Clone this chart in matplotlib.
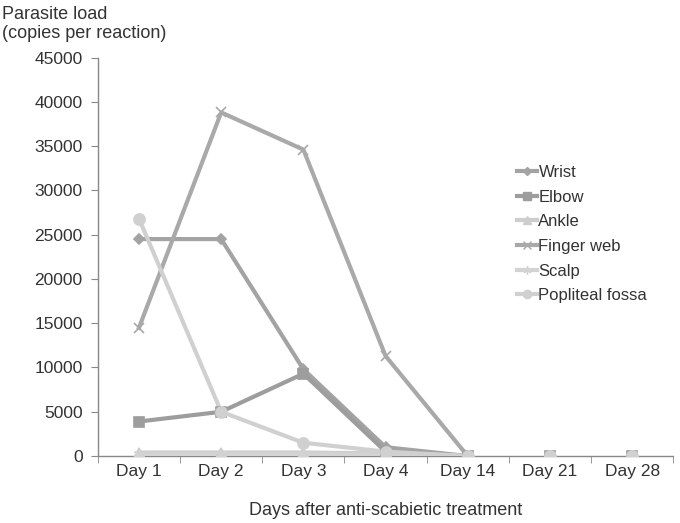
import matplotlib
matplotlib.use("Agg")
import matplotlib.pyplot as plt
import numpy as np

plt.rcParams['font.family'] = ['Liberation Sans', 'DejaVu Sans']

days = ["Day 1", "Day 2", "Day 3", "Day 4", "Day 14", "Day 21", "Day 28"]
wrist = [24500, 24500, 9800, 1000, 0, 0, 0]
elbow = [3900, 5000, 9300, 500, 0, 0, 0]
ankle = [400, 400, 400, 300, 0, 0, 0]
finger_web = [14500, 38800, 34600, 11300, 0, 0, 0]
scalp = [200, 200, 200, 200, 0, 0, 0]
popliteal = [26800, 5000, 1500, 500, 0, 0, 0]

series = [
    ("Wrist", wrist, "#a3a3a3", "D", 5),
    ("Elbow", elbow, "#9d9d9d", "s", 7),
    ("Ankle", ankle, "#cdcdcd", "^", 7),
    ("Finger web", finger_web, "#a9a9a9", "x", 7),
    ("Scalp", scalp, "#d3d3d3", (6, 2, 0), 8),
    ("Popliteal fossa", popliteal, "#d0d0d0", "o", 8),
]

fig = plt.figure(figsize=(6.8, 5.23), dpi=100)
ax = fig.add_axes([0.144, 0.128, 0.846, 0.762])
x = np.arange(len(days))
n_line = 5
for name, vals, col, mk, ms in series:
    ax.plot(x[:n_line], vals[:n_line], color=col, lw=3, zorder=3)
    ax.plot(x, vals, linestyle='none', marker=mk, ms=ms, color=col,
            markeredgecolor=col, mew=1.2, zorder=4)
    ax.plot([], [], color=col, lw=3, marker=mk, ms=ms*0.75, markeredgecolor=col, label=name)

ax.set_xlim(-0.5, len(days) - 0.5)
ax.set_ylim(0, 45000)
ax.set_yticks(np.arange(0, 45001, 5000))
ax.set_yticklabels([str(v) for v in range(0, 45001, 5000)])
ax.set_xticks(x)
ax.set_xticklabels(days)
ax.set_xticks(np.arange(-0.5, len(days), 1), minor=True)
ax.tick_params(axis='x', which='major', length=0, pad=6, labelsize=12.5, colors='#333333')
ax.tick_params(axis='x', which='minor', length=5, color='#888888', direction='out')
ax.tick_params(axis='y', length=5, color='#888888', labelsize=12.5, labelcolor='#333333', pad=6)
for s in ['top', 'right']:
    ax.spines[s].set_visible(False)
for s in ['left', 'bottom']:
    ax.spines[s].set_color('#888888')
    ax.spines[s].set_linewidth(1)

ax.set_xlabel("Days after anti-scabietic treatment", fontsize=13, color='#333333', labelpad=16)
fig.text(0.003, 0.988, "Parasite load\n(copies per reaction)", fontsize=13, color='#333333',
         va='top', ha='left', linespacing=1.15)

leg = ax.legend(loc='upper left', bbox_to_anchor=(0.702, 0.768), frameon=False,
                fontsize=12, handlelength=1.2, handletextpad=0.1, labelspacing=0.58,
                labelcolor='#333333')

fig.savefig("out.png", dpi=100)
